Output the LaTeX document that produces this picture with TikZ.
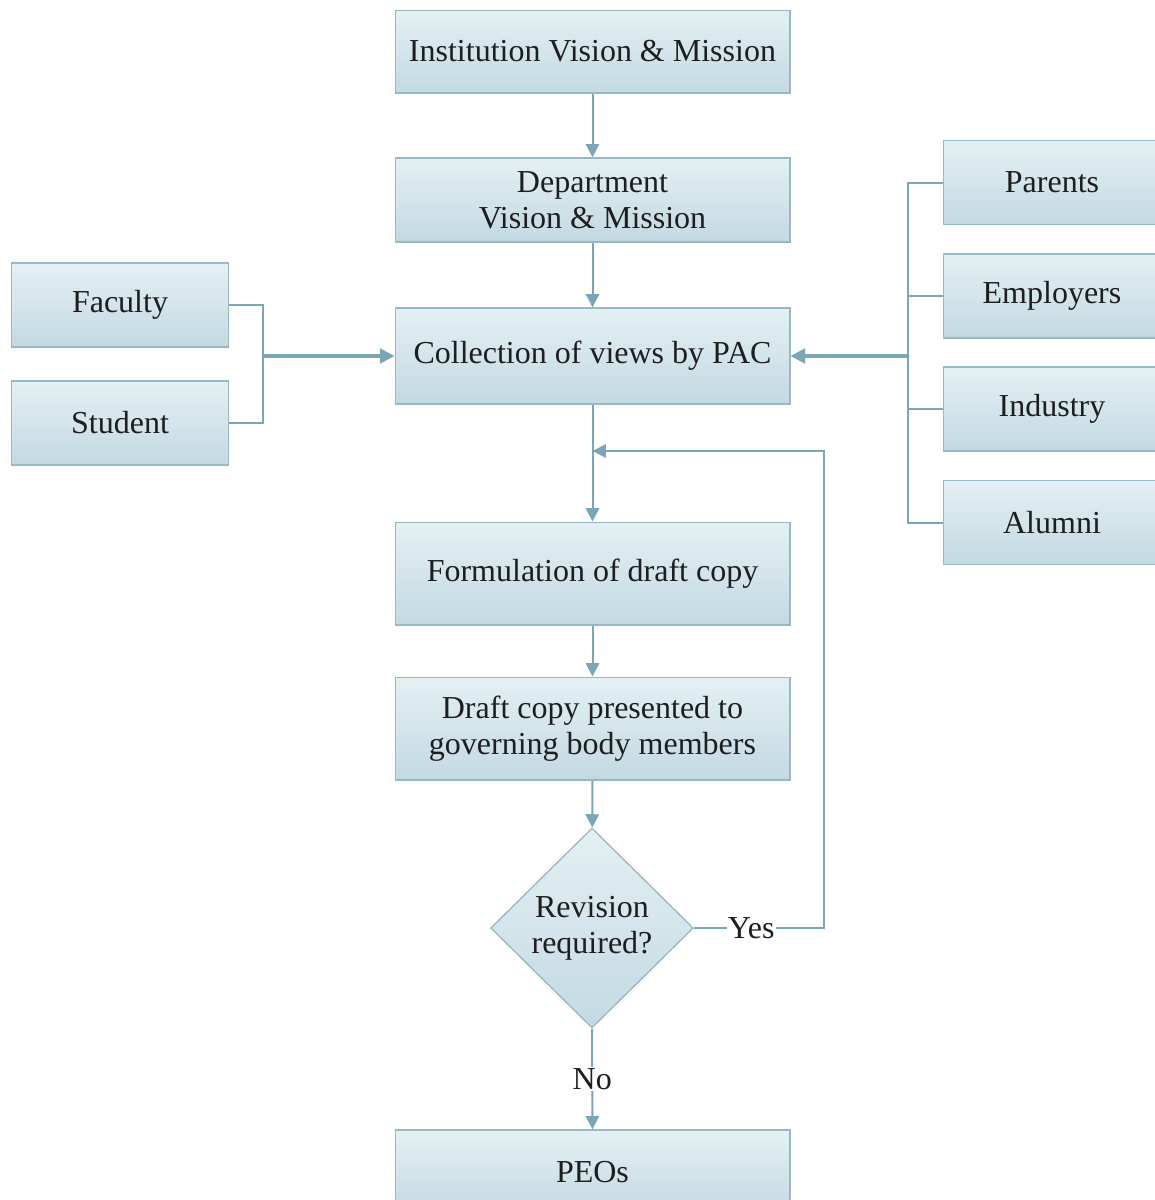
\documentclass[tikz,border=0pt]{standalone}
\usepackage{fontspec}
\setmainfont{Liberation Serif}
\usetikzlibrary{shapes.geometric,arrows.meta,calc}
\definecolor{linec}{HTML}{7BA6B8}
\definecolor{edgec}{HTML}{97B9C5}
\definecolor{filltop}{HTML}{E4F0F4}
\definecolor{fillbot}{HTML}{C3D9E1}
\definecolor{textc}{HTML}{1E1E1E}
\begin{document}
\begin{tikzpicture}[x=0.75pt,y=-0.75pt,
  txt/.style={text=textc, font=\fontsize{24}{27}\selectfont},
  box/.style={txt, rectangle, draw=edgec, line width=1pt,
    top color=filltop, bottom color=fillbot, align=center, inner sep=0pt},
  mainbox/.style={box, minimum width=296pt},
  sidebox/.style={box, minimum width=163pt, minimum height=63pt},
  decision/.style={txt, diamond, draw=edgec, line width=1pt,
    top color=filltop, bottom color=fillbot, align=center, inner sep=0pt,
    minimum width=152pt, minimum height=150pt},
  conn/.style={draw=linec, line width=1.5pt},
  arr/.style={conn, -{Triangle[length=10pt,width=10pt]}},
  feed/.style={draw=linec, line width=2.4pt, -{Triangle[length=11pt,width=11pt]}},
  lbl/.style={txt, fill=white, inner sep=1pt}
]
\useasboundingbox (0,0) rectangle (1155,1200);
\fill[white] (0,0) rectangle (1155,1200);
\clip (0,0) rectangle (1155,1200);

% main column
\node[mainbox, minimum height=62pt] (inst)  at (592.5,51.5)  {Institution Vision \& Mission};
\node[mainbox, minimum height=63pt] (dept)  at (592.5,200)   {Department\\Vision \& Mission};
\node[mainbox, minimum height=72pt] (coll)  at (592.5,356)   {Collection of views by PAC};
\node[mainbox, minimum height=77pt] (form)  at (592.5,573.5) {Formulation of draft copy};
\node[mainbox, minimum height=77pt] (draft) at (592.5,728.5) {Draft copy presented to\\governing body members};
\node[decision] (dec) at (592,928) {Revision\\required?};
\node[mainbox, minimum height=63pt] (peos)  at (592.5,1172)  {PEOs};

% internal stakeholders
\node[sidebox] (fac) at (120,305) {Faculty};
\node[sidebox] (stu) at (120,423) {Student};

% external stakeholders
\node[sidebox] (par) at (1052,182.5) {Parents};
\node[sidebox] (emp) at (1052,296)   {Employers};
\node[sidebox] (ind) at (1052,409)   {Industry};
\node[sidebox] (alu) at (1052,522.5) {Alumni};

% main flow
\draw[arr] (inst) -- (dept);
\draw[arr] (dept) -- (coll);
\draw[arr] (coll) -- (form);
\draw[arr] (form) -- (draft);
\draw[arr] (draft) -- (dec);

% left bracket
\coordinate (lb) at (263,356);
\draw[conn] (fac.east) -| (lb);
\draw[conn] (stu.east) -| (lb);
\draw[feed] (lb) -- (coll.west);

% right bracket
\coordinate (rb) at (908,356);
\draw[conn] (par.west) -| (rb);
\draw[conn] (emp.west) -| (rb);
\draw[conn] (ind.west) -| (rb);
\draw[conn] (alu.west) -| (rb);
\draw[feed] (rb) -- (coll.east);

% revision loop
\coordinate (lt) at (824,451);
\draw[arr] (dec.east) -- node[lbl, pos=0.44] {Yes} (dec.east -| lt) -- (lt) -- (coll.south |- lt);

% exit
\draw[arr] (dec.south) -- node[lbl, pos=0.5] {No} (peos.north);
\end{tikzpicture}
\end{document}
